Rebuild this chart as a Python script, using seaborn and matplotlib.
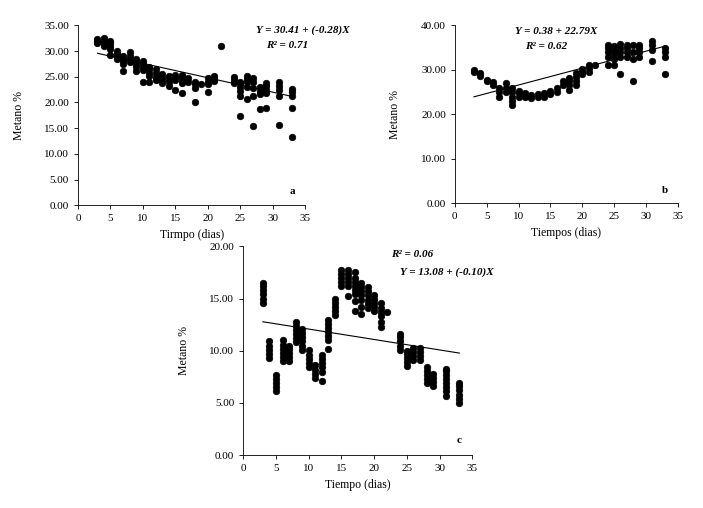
import matplotlib
matplotlib.use("Agg")
import matplotlib.pyplot as plt
import seaborn as sns
import numpy as np
import pandas as pd

plt.rcParams["font.family"] = "Liberation Serif"

days_a = [3,4,5,6,7,8,9,10,11,12,13,14,15,16,17,18,19,20,21,22,24,25,26,27,28,29,31,33]
vals_a = [[31.5,32,32.3],[31,31.5,32,32.5],[29.3,30.5,31,31.5,32],[28.5,29,29.5,30],
          [26.2,27.5,28,28.5,29],[27.8,28.5,29,29.8],[26.2,27,27.5,28,28.5],[23.9,26.3,27,27.5,28],
          [24,25.2,25.8,26.5,27],[24.3,25,25.8,26.5],[23.7,24.3,25,25.5],[23.2,24,24.6,25.2],
          [22.5,24.3,25,25.3],[21.9,23.7,24.3,25,25.3],[24,24.7],[20,22.8,23.5,24],[23.5],
          [22.1,23.5,24,24.7],[24.2,24.7,25.2],[31],[23.8,24.3,24.9],[17.4,21.2,22.3,23,23.7,24],
          [20.6,23,24,24.6,25.2],[15.4,21.2,22.9,24,24.8],[18.8,21.6,22.3,23],[19,21.8,22.5,23.2,23.7],
          [15.7,21.3,22.5,23.2,24],[13.2,19,21.3,22,22.7]]

days_b = days_a
vals_b = [[29.6,30],[28.6,29.2],[27.4,27.8],[26.6,27.3],[24,25,26],[25,26,27],[22,23,24,25,26],
          [24,24.8,25.3],[24,24.8],[23.7,24.3],[23.8,24.5],[24,24.8],[24.5,25.3],[25,26],[26.5,27.5],
          [25.5,26.5,27.5,28.2],[26.5,27.5,28.5,29.2],[29,29.5,30.2],[29.5,30.5,31],[31],
          [31,33,34,35,35.5],[31,32.5,33.5,34.5,35.3],[29,33,34,35,35.8],[33,34,35,35.5],
          [27.5,32.5,34,35.5],[33,34,35,35.5],[32,34.5,35.5,36.5],[29,33,34,35]]

days_c = days_a
vals_c = [[14.6,15,15.4,15.8,16.2,16.5],[9.3,9.7,10.1,10.5,10.9],[6.1,6.5,6.9,7.3,7.7],
          [9,9.4,9.8,10.2,10.6,11],[9,9.4,9.8,10.2,10.5],[10.8,11.2,11.6,12,12.4,12.8],
          [10.1,10.5,10.9,11.3,11.7,12.1],[8.4,8.8,9.2,9.6,10.1],[7.4,7.8,8.2,8.6],
          [7.1,8,8.4,8.8,9.2,9.6],[10.2,11,11.4,11.8,12.2,12.6,12.9],[13.4,13.8,14.2,14.6,15],
          [16.2,16.6,17,17.4,17.7],[15.2,16.2,16.6,17,17.4,17.7],[13.8,14.8,15.4,15.8,16.2,16.6,17,17.5],
          [13.5,14.2,14.9,15.3,15.7,16.1,16.5],[14.1,14.5,14.9,15.3,15.7,16.1],[13.8,14.2,14.6,15,15.3],
          [12.3,12.8,13.3,13.7,14.1,14.6],[13.7],[10.1,10.5,10.9,11.3,11.6],[8.5,8.9,9.3,9.7,10],
          [9.1,9.5,9.9,10.3],[9.1,9.5,9.9,10.3],[6.9,7.3,7.7,8.1,8.4],[6.6,7,7.4,7.8],
          [5.7,6.1,6.5,6.9,7.3,7.7,8.1,8.3],[5,5.4,5.8,6.2,6.6,6.9]]

# regression coefficients (intercept, slope)
fit_a = (30.41, -0.28)
fit_b = (22.79, 0.38)
fit_c = (13.08, -0.10)

def frame(days, vals):
    return pd.DataFrame([(d, v) for d, vs in zip(days, vals) for v in vs], columns=["x", "y"])

fig = plt.figure(figsize=(7.03, 5.08), dpi=100)
axa = fig.add_axes([0.111, 0.596, 0.323, 0.354])
axb = fig.add_axes([0.647, 0.600, 0.317, 0.350])
axc = fig.add_axes([0.346, 0.104, 0.326, 0.411])

panels = [
    (axa, days_a, vals_a, fit_a, 35, "Tirmpo (dias)", "a",
     ["Y = 30.41 + (-0.28)X", "R² = 0.71"], (27.5, 33.5), 5),
    (axb, days_b, vals_b, fit_b, 40, "Tiempos (dias)", "b",
     ["Y = 0.38 + 22.79X", "R² = 0.62"], (9.5, 38.0), 10),
    (axc, days_c, vals_c, fit_c, 20, "Tiempo (dias)", "c",
     ["R² = 0.06", "Y = 13.08 + (-0.10)X"], (22.5, 19.0), 5),
]

for ax, days, vals, fit, ymax, xlabel, tag, eq, pos, ystep in panels:
    df = frame(days, vals)
    sns.scatterplot(data=df, x="x", y="y", ax=ax, color="black", s=22,
                    marker="o", edgecolor="black", linewidth=0.5)
    lx = np.array([3, 33])
    ld = pd.DataFrame({"x": lx, "y": fit[0] + fit[1] * lx})
    sns.lineplot(data=ld, x="x", y="y", ax=ax, color="black", lw=0.8)
    ax.set_xlim(0, 35)
    ax.set_ylim(0, ymax)
    ax.set_xticks(range(0, 36, 5))
    ax.set_yticks(np.arange(0, ymax + 0.1, ystep))
    ax.set_yticklabels([f"{v:.2f}" for v in np.arange(0, ymax + 0.1, ystep)])
    ax.tick_params(labelsize=8, length=3, width=0.6)
    ax.set_xlabel(xlabel, fontsize=8.5)
    ax.set_ylabel("Metano %", fontsize=8.5, labelpad=14)
    for s in ["top", "right"]:
        ax.spines[s].set_visible(False)
    for s in ["left", "bottom"]:
        ax.spines[s].set_linewidth(0.6)
    ax.text(pos[0], pos[1], eq[0], fontsize=8, style="italic", weight="bold")
    ax.text(pos[0] + 1.5, pos[1] - ymax * 0.085, eq[1], fontsize=8, style="italic", weight="bold")
    ax.text(33, ymax * 0.06, tag, fontsize=8, weight="bold", ha="center")

fig.savefig("out.png", dpi=100)
